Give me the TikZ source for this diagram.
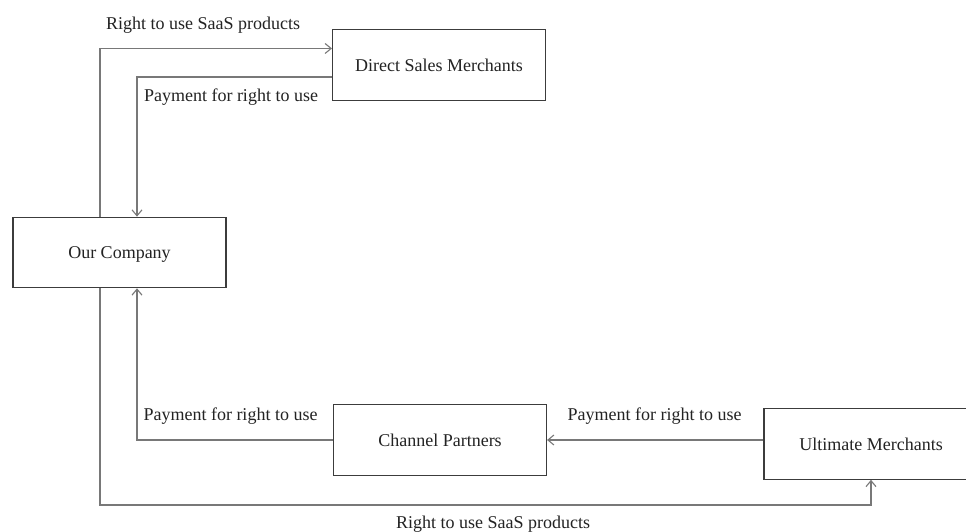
\documentclass[tikz,border=0pt]{standalone}
\usepackage{fontspec}
\setmainfont{Liberation Serif}
\usetikzlibrary{arrows.meta}
\definecolor{linegray}{RGB}{120,120,120}
\definecolor{boxgray}{RGB}{60,60,60}
\definecolor{txt}{RGB}{35,35,35}
\begin{document}
\begin{tikzpicture}[x=1pt,y=1pt,
  every node/.style={font=\fontsize{18}{21.6}\selectfont, text=txt},
  entity/.style={draw=boxgray, line width=1.1pt, minimum width=213pt, minimum height=70.5pt, inner sep=0pt, text height=13pt, text depth=0pt},
  flow/.style={draw=linegray, line width=1.1pt, -{Straight Barb[length=6pt,width=10pt]}},
  lbl/.style={anchor=base, inner sep=0pt}]
\clip (0,0) rectangle (966,532);
\fill[white] (0,0) rectangle (966,532);
% entities
\node[entity] (oc)  at (119.5,279.5) {Our Company};
\node[entity] (dsm) at (439,467)   {Direct Sales Merchants};
\node[entity] (cp)  at (440,92)    {Channel Partners};
\node[entity, minimum width=214pt] (um) at (871,88) {Ultimate Merchants};
\coordinate (low) at (0,27);
% connectors
\draw[flow] ([xshift=-19.5pt]oc.north) |- ([yshift=16.5pt]dsm.west);
\draw[flow] ([yshift=-12pt]dsm.west) -| ([xshift=17.5pt]oc.north);
\draw[flow] (cp.west) -| ([xshift=17.5pt]oc.south);
\draw[flow] (um.west |- cp.west) -- (cp.east);
\draw[flow] ([xshift=-19.5pt]oc.south) -- ([xshift=-19.5pt]oc.south |- low) -| (um.south);
% labels
\node[lbl] (l1) at (203,502.7) {Right to use SaaS products};
\node[lbl] (l2) at (231,430.5) {Payment for right to use};
\node[lbl] (l3) at (230.5,111.3) {Payment for right to use};
\node[lbl] (l4) at (654.5,111.3) {Payment for right to use};
\node[lbl] (l5) at (493,3.5) {Right to use SaaS products};
\end{tikzpicture}
\end{document}
